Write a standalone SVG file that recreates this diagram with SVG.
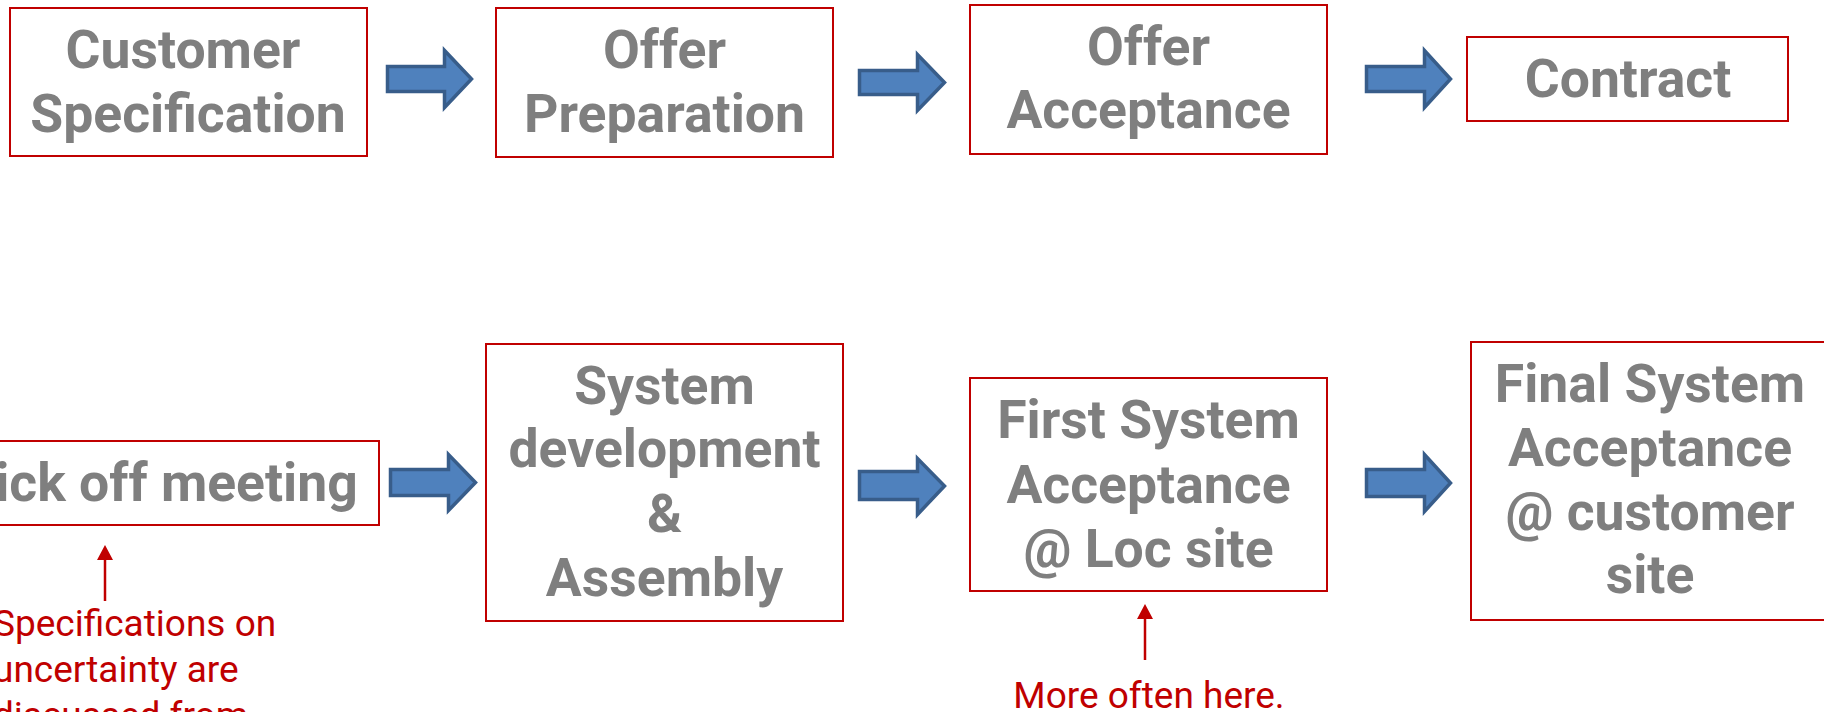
<svg xmlns="http://www.w3.org/2000/svg" width="1824" height="712" viewBox="0 0 1824 712">
  <defs>
    <style>
      .box { fill: #FFFFFF; stroke: #C00000; stroke-width: 2; }
      .lbl { font-family: Roboto, "Liberation Sans", sans-serif; font-weight: 700; font-size: 53.5px; fill: #7F7F7F; text-anchor: middle; }
      .note { font-family: Roboto, "Liberation Sans", sans-serif; font-weight: 400; font-size: 37px; fill: #C00000; }
      .flow { fill: #4F81BD; stroke: #385D8A; stroke-width: 3.5; stroke-linejoin: miter; }
      .pointer { stroke: #C00000; stroke-width: 2.5; fill: none; }
    </style>
  </defs>

  <rect width="1824" height="712" fill="#FFFFFF"/>

  <!-- Top row -->
  <g id="customer-specification">
    <rect class="box" x="10" y="8" width="357" height="148"/>
    <text class="lbl" x="183" y="68">Customer</text>
    <text class="lbl" x="188" y="132">Specification</text>
  </g>
  <g id="offer-preparation">
    <rect class="box" x="496" y="8" width="337" height="149"/>
    <text class="lbl" x="664.5" y="68">Offer</text>
    <text class="lbl" x="664.5" y="132">Preparation</text>
  </g>
  <g id="offer-acceptance">
    <rect class="box" x="970" y="5" width="357" height="149"/>
    <text class="lbl" x="1148.5" y="65">Offer</text>
    <text class="lbl" x="1148.5" y="128">Acceptance</text>
  </g>
  <g id="contract">
    <rect class="box" x="1467" y="37" width="321" height="84"/>
    <text class="lbl" x="1628" y="97">Contract</text>
  </g>

  <!-- Bottom row -->
  <g id="kick-off-meeting">
    <rect class="box" x="-60" y="441" width="439" height="84"/>
    <text class="lbl" x="159.5" y="501">Kick off meeting</text>
  </g>
  <g id="system-development">
    <rect class="box" x="486" y="344" width="357" height="277"/>
    <text class="lbl" x="664.5" y="404">System</text>
    <text class="lbl" x="664.5" y="467">development</text>
    <text class="lbl" x="664.5" y="532">&amp;</text>
    <text class="lbl" x="664.5" y="596">Assembly</text>
  </g>
  <g id="first-system-acceptance">
    <rect class="box" x="970" y="378" width="357" height="213"/>
    <text class="lbl" x="1148.5" y="438">First System</text>
    <text class="lbl" x="1148.5" y="503">Acceptance</text>
    <text class="lbl" x="1148.5" y="567">@ Loc site</text>
  </g>
  <g id="final-system-acceptance">
    <rect class="box" x="1471" y="342" width="360" height="278"/>
    <text class="lbl" x="1650" y="402">Final System</text>
    <text class="lbl" x="1650" y="466">Acceptance</text>
    <text class="lbl" x="1650" y="530">@ customer</text>
    <text class="lbl" x="1650" y="593">site</text>
  </g>

  <!-- Block arrows between the steps -->
  <g id="connectors">
    <path class="flow" d="M387.5,66.5 H444.5 V50.5 L471.5,79 L444.5,107.5 V91.5 H387.5 Z"/>
    <path class="flow" d="M859.5,70.5 H917.5 V54.5 L944.5,82.5 L917.5,110.5 V94.5 H859.5 Z"/>
    <path class="flow" d="M1366.5,66.5 H1424.5 V50.5 L1450.5,79 L1424.5,107.5 V91.5 H1366.5 Z"/>
    <path class="flow" d="M390.5,469.5 H448.5 V454.5 L475.5,482.5 L448.5,510.5 V495.5 H390.5 Z"/>
    <path class="flow" d="M859.5,471.5 H917.5 V458.5 L944.5,486 L917.5,514.5 V499.5 H859.5 Z"/>
    <path class="flow" d="M1366.5,469.5 H1424.5 V454.5 L1450.5,483 L1424.5,511.5 V496.5 H1366.5 Z"/>
  </g>

  <!-- Annotations -->
  <g id="note-specifications">
    <line class="pointer" x1="105" y1="601" x2="105" y2="558"/>
    <path d="M105,545 L113,560 L97,560 Z" fill="#C00000"/>
    <text class="note" x="-7" y="636">Specifications on</text>
    <text class="note" x="-7" y="682">uncertainty are</text>
    <text class="note" x="-7" y="728">discussed from</text>
  </g>
  <g id="note-more-often">
    <line class="pointer" x1="1145" y1="660" x2="1145" y2="617"/>
    <path d="M1145,604 L1153,619 L1137,619 Z" fill="#C00000"/>
    <text class="note" x="1149" y="708" text-anchor="middle">More often here.</text>
  </g>
</svg>
